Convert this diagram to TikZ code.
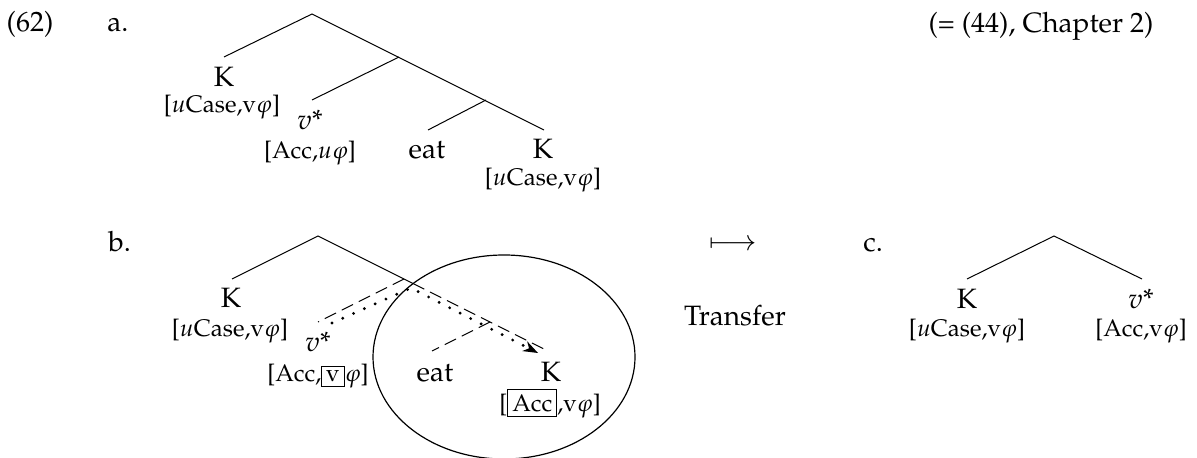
\documentclass[tikz,border=0pt]{standalone}
\usepackage[T1]{fontenc}
\usepackage{mathpazo}
\usetikzlibrary{arrows.meta}
\setlength{\fboxsep}{2pt}
\setlength{\fboxrule}{0.5pt}
\begin{document}
\begin{tikzpicture}[x=0.5pt,y=-0.5pt,
  lab/.style={inner sep=0pt,anchor=base,font=\fontsize{14}{17}\selectfont},
  labl/.style={inner sep=0pt,anchor=base west,font=\fontsize{14}{17}\selectfont},
  feat/.style={inner sep=0pt,anchor=base,font=\fontsize{12}{14}\selectfont},
  branch/.style={line width=0.5pt},
  dbranch/.style={line width=0.5pt,dash pattern=on 6.3pt off 3.2pt},
  agree/.style={line width=1.6pt,line cap=round,dash pattern=on 0pt off 5.9pt,
    -{Stealth[length=7.5pt,width=5.5pt,line width=0pt]}},
  transring/.style={line width=0.6pt}]
\useasboundingbox (0,0) rectangle (1197,458);
% headings
\node[lab] (num) at (30,32) {(62)};
\node[labl] (la) at (107,32) {a.};
\node[lab] (ref) at (1041,33) {(= (44), Chapter 2)};
\node[labl] (lb) at (108,252) {b.};
\node[labl] (lc) at (863,252) {c.};
\node[lab] (maps) at (733,251) {$\longmapsto$};
\node[lab] (tr) at (735,326) {Transfer};
% ---- tree a
\coordinate (ar) at (312,14);
\coordinate (aK) at (224,57);
\coordinate (an1) at (399,57);
\coordinate (av) at (312,100);
\coordinate (an2) at (486,100);
\coordinate (aeat) at (428,130);
\coordinate (aK2) at (544,130);
\draw[branch] (aK) -- (ar) -- (aK2);
\draw[branch] (an1) -- (av);
\draw[branch] (an2) -- (aeat);
\node[lab] (aKl) at (224,87) {K};
\node[feat] (aKf) at (222,113) {[$u$Case,v$\varphi$]};
\node[lab] (avl) at (310,130) {$v$*};
\node[feat] (avf) at (310,159) {[Acc,$u\varphi$]};
\node[lab] (aeatl) at (427,159) {eat};
\node[lab] (aK2l) at (543,159) {K};
\node[feat] (aK2f) at (543,186) {[$u$Case,v$\varphi$]};
% ---- tree b
\coordinate (br) at (318,236);
\coordinate (bK) at (232,279);
\coordinate (bn1) at (404,279);
\coordinate (bx) at (413,283.5);
\coordinate (bv) at (318,322);
\coordinate (bn2) at (490,322);
\coordinate (beat) at (432,351);
\coordinate (bK2) at (548,351);
\draw[branch] (bK) -- (br) -- (bx);
\draw[dbranch] (bx) -- (bK2);
\draw[dbranch] (bn1) -- (bv);
\draw[dbranch] (bn2) -- (beat);
\node[lab] (bKl) at (231,308) {K};
\node[feat] (bKf) at (230,337) {[$u$Case,v$\varphi$]};
\node[lab] (bvl) at (318,352) {$v$*};
\node[feat] (bvf) at (318,382) {[Acc,\fbox{v}$\varphi$]};
\node[lab] (beatl) at (435,382) {eat};
\node[lab] (bK2l) at (551,382) {K};
\node[feat] (bK2f) at (550,411) {[\fbox{Acc},v$\varphi$]};
% agreement path
\coordinate (ds) at (332,323);
\coordinate (dc) at (411,288);
\coordinate (de) at (538,353);
\draw[agree] (ds) -- (dc) -- (de);
% transfer domain
\coordinate (dom) at (504,357);
\draw[transring] (dom) circle [x radius=65.5pt, y radius=51pt];
% ---- tree c
\coordinate (cr) at (1054,236);
\coordinate (cK) at (967,279);
\coordinate (cv) at (1142,279);
\draw[branch] (cK) -- (cr) -- (cv);
\node[lab] (cKl) at (967,309) {K};
\node[feat] (cKf) at (967,337) {[$u$Case,v$\varphi$]};
\node[lab] (cvl) at (1141,309) {$v$*};
\node[feat] (cvf) at (1141,337) {[Acc,v$\varphi$]};
\end{tikzpicture}
\end{document}
